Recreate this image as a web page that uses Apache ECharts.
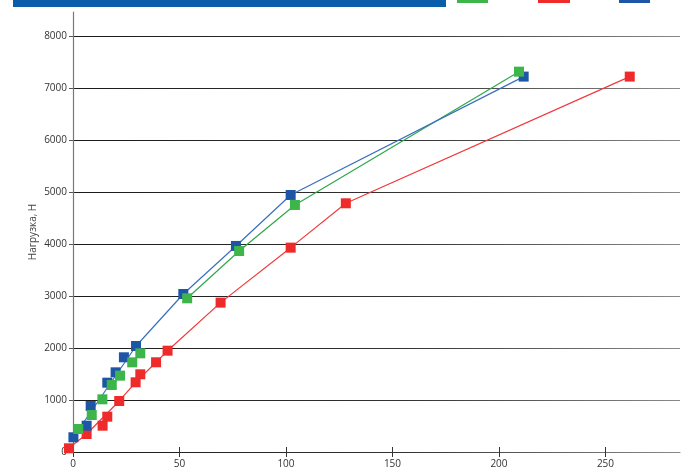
<!DOCTYPE html>
<html><head><meta charset="utf-8">
<script src="https://cdn.jsdelivr.net/npm/echarts@6/dist/echarts.min.js"></script>
<style>html,body{margin:0;padding:0;background:#fff}#c{width:697px;height:473px}</style>
</head><body><div id="c"></div>
<script>
// ---- data ----
const xTicks = [0, 50, 100, 150, 200, 250];
const yTicks = [0, 1000, 2000, 3000, 4000, 5000, 6000, 7000, 8000];
const yTitle = 'Нагрузка, Н';

const blueX  = [0.2, 6.4, 8.3, 16.1, 20.0, 23.9, 29.6, 51.8, 76.5, 102.2, 211.6];
const blueY  = [283, 506, 885, 1333, 1532, 1821, 2038, 3038, 3962, 4942, 7218];
const greenX = [2.5, 8.8, 13.8, 18.2, 22.1, 27.8, 31.6, 53.6, 78.0, 104.2, 209.4];
const greenY = [442, 711, 1013, 1288, 1468, 1724, 1897, 2955, 3865, 4750, 7313];
const redX   = [-1.9, 6.4, 13.9, 16.1, 21.7, 29.4, 31.6, 39.0, 44.4, 69.3, 102.2, 128.1, 261.4];
const redY   = [71, 346, 506, 679, 981, 1340, 1494, 1725, 1948, 2872, 3929, 4782, 7218];

// points joined by the connecting lines (indices into the arrays above)
const blueLineIdx  = [0, 6, 7, 8, 9, 10];
const greenLineIdx = [7, 8, 9, 10];
const redLineIdx   = [0, 1, 4, 5, 7, 8, 9, 10, 11, 12];

// ---- build ----
const pts = (xs, ys) => xs.map((x, i) => [x, ys[i]]);
const linePts = (xs, ys, idx) => idx.map(i => [xs[i], ys[i]]);

const C = {
  blue: '#1d56a6', blueLine: '#3a6fc2',
  green: '#3db54b', greenLine: '#2ea84a',
  red: '#ee2a2a', redLine: '#f03a3a'
};
const FONT = 'Open Sans';
const gridGrad = new echarts.graphic.LinearGradient(0, 0, 1, 0, [
  {offset: 0, color: '#1a1a1a'}, {offset: 0.55, color: '#333'}, {offset: 1, color: '#8a8a8a'}
]);
const plain = v => String(v);

function lineSeries(name, data, color, z) {
  return {
    name, type: 'line', data, symbol: 'none', silent: true, z,
    lineStyle: {color, width: 1.2}
  };
}
function scatterSeries(name, data, color, z) {
  return {
    name, type: 'scatter', data, symbol: 'rect', symbolSize: 10, clip: false, z,
    itemStyle: {color, opacity: 1}
  };
}

const chart = echarts.init(document.getElementById('c'), null, {renderer: 'canvas'});
chart.setOption({
  animation: false,
  backgroundColor: '#fff',
  grid: {left: 73, right: 17, top: 12, bottom: 21, containLabel: false},
  xAxis: [{
    type: 'value', min: 0, max: 285, interval: 50,
    axisLine: {show: true, lineStyle: {color: gridGrad, width: 1.2}},
    axisTick: {show: true, inside: false, length: 5, lineStyle: {color: '#333'}, customValues: xTicks},
    axisLabel: {color: '#333', fontSize: 10, fontFamily: FONT, margin: 7, customValues: xTicks, formatter: plain},
    splitLine: {show: false}
  }, {
    type: 'value', min: 0, max: 285, position: 'bottom',
    axisLine: {show: false},
    axisTick: {show: true, inside: true, length: 5, lineStyle: {color: '#333'}, customValues: xTicks},
    axisLabel: {show: false},
    splitLine: {show: false}
  }],
  yAxis: {
    type: 'value', min: 0, max: 8460, interval: 1000,
    name: yTitle, nameLocation: 'middle', nameGap: 35, nameRotate: 90, nameMoveOverlap: false,
    nameTextStyle: {color: '#444', fontSize: 10, fontFamily: FONT},
    axisLine: {show: true, lineStyle: {color: '#777', width: 1.2}},
    axisTick: {show: true, length: 4, lineStyle: {color: '#555'}, customValues: yTicks},
    axisLabel: {color: '#333', fontSize: 10, fontFamily: FONT, margin: 6, customValues: yTicks, formatter: plain},
    splitLine: {show: true, lineStyle: {width: 1.2,
      color: yTicks.map(() => gridGrad).concat(['rgba(0,0,0,0)'])}}
  },
  series: [
    lineSeries('red-line', linePts(redX, redY, redLineIdx), C.redLine, 2),
    lineSeries('green-line', linePts(greenX, greenY, greenLineIdx), C.greenLine, 2),
    lineSeries('blue-line', linePts(blueX, blueY, blueLineIdx), C.blueLine, 2),
    scatterSeries('red', pts(redX, redY), C.red, 3),
    scatterSeries('blue', pts(blueX, blueY), C.blue, 4),
    scatterSeries('green', pts(greenX, greenY), C.green, 5)
  ],
  graphic: [
    {type: 'rect', left: 13, top: 0, shape: {width: 433, height: 7}, style: {fill: '#0a5dab'}, silent: true},
    {type: 'rect', left: 457, top: 0, shape: {width: 31, height: 3}, style: {fill: C.green}, silent: true},
    {type: 'rect', left: 538, top: 0, shape: {width: 32, height: 3}, style: {fill: C.red}, silent: true},
    {type: 'rect', left: 619, top: 0, shape: {width: 31, height: 3}, style: {fill: C.blue}, silent: true}
  ]
});
</script></body></html>
